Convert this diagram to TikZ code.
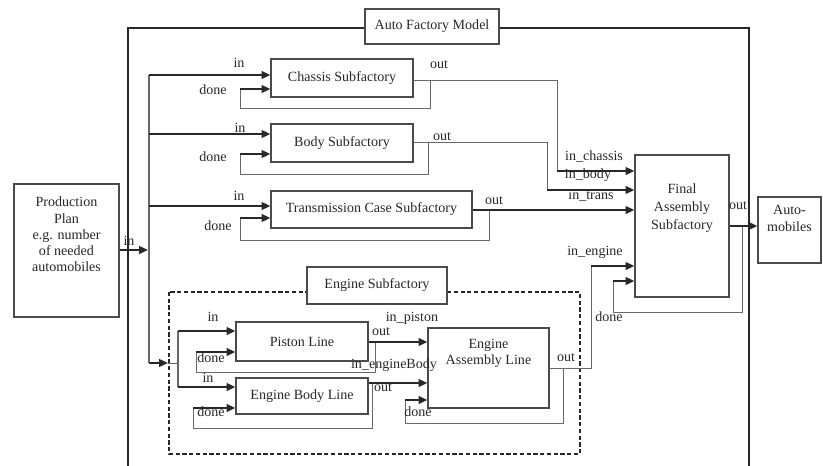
\documentclass[tikz,border=0pt]{standalone}
\usepackage{fontspec}
\setmainfont{Liberation Serif}
\usetikzlibrary{arrows.meta, positioning}
\definecolor{wiregray}{RGB}{105,105,105}
\definecolor{boxgray}{RGB}{75,75,75}
\definecolor{inkgray}{RGB}{40,40,40}

\begin{document}
\begin{tikzpicture}[
    x=0.25mm, y=-0.25mm,
    box/.style={rectangle, draw=boxgray, fill=white, line width=0.8pt, inner sep=0pt, align=center, text=inkgray, font=\fontsize{10}{12}\selectfont},
    tag/.style={inner sep=0pt, text=inkgray, font=\fontsize{10}{12}\selectfont},
    arrow/.style={-{Triangle[length=2.2mm, width=1.9mm]}, line width=1.4pt, inkgray},
    wire/.style={draw=wiregray, line width=0.7pt},
    frame/.style={draw=inkgray, line width=1.2pt},
    dashframe/.style={draw=inkgray, line width=1.6pt, dash pattern=on 3pt off 1.8pt}
]
\useasboundingbox (0,0) rectangle (823,466);

% Outer model frame, open at the bottom
\draw[frame] (128,466) |- (749,28) -- (749,466);
\node[box, minimum width=33.5mm, minimum height=8.75mm] (autotitle) at (432,26.5) {Auto Factory Model};

% Engine subfactory frame
\draw[dashframe] (169,292) rectangle (580,454);
\node[box, minimum width=35mm, minimum height=9.25mm] (enginetitle) at (377,285.5) {Engine Subfactory};

% Blocks
\node[box, minimum width=26.25mm, minimum height=33.25mm, text depth=23pt, font=\fontsize{10}{11.5}\selectfont] (plan) at (66.5,250.5) {Production\\Plan\\e.g. number\\of needed\\automobiles};
\node[box, minimum width=35.5mm, minimum height=9.5mm] (chassis) at (342,78) {Chassis Subfactory};
\node[box, minimum width=35.5mm, minimum height=9.5mm] (body) at (342,143) {Body Subfactory};
\node[box, minimum width=50.25mm, minimum height=9.25mm] (trans) at (371.5,209.5) {Transmission Case Subfactory};
\node[box, minimum width=23.5mm, minimum height=35.5mm, text depth=27.5pt, font=\fontsize{10}{12.8}\selectfont] (final) at (682,226) {Final\\Assembly\\Subfactory};
\node[box, minimum width=15.75mm, minimum height=16.5mm, text depth=16.5pt] (autos) at (789.5,230) {Auto-\\mobiles};
\node[box, minimum width=33mm, minimum height=9.75mm] (piston) at (302,341.5) {Piston Line};
\node[box, minimum width=33mm, minimum height=9mm] (engbody) at (302,396) {Engine Body Line};
\node[box, minimum width=30.25mm, minimum height=20mm, text depth=23pt] (engassy) at (488.5,368) {Engine\\Assembly Line};

% Input bus
\draw[arrow] (plan.east |- 0,250) -- (148,250);
\draw[wire, line width=0.9pt] (149,75) -- (149,363);
\draw[arrow] (149,75) -- (chassis.west |- 0,75);
\draw[arrow] (149,134) -- (body.west |- 0,134);
\draw[arrow] (149,206) -- (trans.west |- 0,206);
\draw[arrow] (149,363) -- (168,363);
\draw[wire] (168,363) -- (178,363);
\draw[wire, line width=0.9pt] (178,331) -- (178,387);
\draw[arrow] (178,331) -- (piston.west |- 0,331);
\draw[arrow] (178,387) -- (engbody.west |- 0,387);

% Done loops
\draw[wire] (chassis.east |- 0,80) -- (430,80) |- (240,108) -- (240,89);
\draw[arrow] (240,89) -- (chassis.west |- 0,89);
\draw[wire] (body.east |- 0,142) -- (428,142) |- (240,174) -- (240,154);
\draw[arrow] (240,154) -- (body.west |- 0,154);
\draw[wire] (trans.east |- 0,210) -- (489,210) |- (240,240) -- (240,218);
\draw[arrow] (240,218) -- (trans.west |- 0,218);
\draw[wire] (375,342) |- (196,372) -- (196,352);
\draw[arrow] (196,352) -- (piston.west |- 0,352);
\draw[wire] (372,383) |- (193,428) -- (193,408);
\draw[arrow] (193,408) -- (engbody.west |- 0,408);
\draw[wire] (engassy.east |- 0,368) -- (563,368) |- (405,423) -- (405,400);
\draw[arrow] (405,400) -- (engassy.west |- 0,400);
\draw[wire] (742,226) |- (613,312) -- (613,281);
\draw[arrow] (613,281) -- (final.west |- 0,281);

% Outputs to the assembly blocks
\draw[wire] (chassis.east |- 0,80) -- (557,80) -- (557,171);
\draw[arrow] (557,171) -- (final.west |- 0,171);
\draw[wire] (body.east |- 0,142) -- (547,142) -- (547,190);
\draw[arrow] (547,190) -- (final.west |- 0,190);
\draw[arrow] (trans.east |- 0,210) -- (final.west |- 0,210);
\draw[arrow] (piston.east |- 0,342) -- (engassy.west |- 0,342);
\draw[arrow] (engbody.east |- 0,383) -- (engassy.west |- 0,383);
\draw[wire] (563,368) -- (591,368) -- (591,266);
\draw[arrow] (591,266) -- (final.west |- 0,266);
\draw[arrow] (final.east |- 0,226) -- (autos.west |- 0,226);

% Port labels
\node[tag] (planin) at (129,241) {in};
\node[tag] (chassisin) at (239,63) {in};
\node[tag] (chassisdone) at (213,90) {done};
\node[tag] (chassisout) at (439,65) {out};
\node[tag] (bodyin) at (240,128) {in};
\node[tag] (bodydone) at (213,157) {done};
\node[tag] (bodyout) at (442,137) {out};
\node[tag] (transin) at (239,196) {in};
\node[tag] (transdone) at (218,226) {done};
\node[tag] (transout) at (494,201) {out};
\node[tag] (finchassis) at (594,157) {in\_chassis};
\node[tag] (finbody) at (588,175) {in\_body};
\node[tag] (fintrans) at (591,196) {in\_trans};
\node[tag] (finengine) at (595,252) {in\_engine};
\node[tag] (findone) at (609,317) {done};
\node[tag] (finout) at (738,206) {out};
\node[tag] (pistonin) at (213,317) {in};
\node[tag] (pistondone) at (211,358) {done};
\node[tag] (pistonout) at (381,332) {out};
\node[tag] (engbodyin) at (208,378) {in};
\node[tag] (engbodydone) at (211,412) {done};
\node[tag] (engbodyout) at (383,388) {out};
\node[tag] (assypiston) at (412,318) {in\_piston};
\node[tag] (assybody) at (394,365) {in\_engineBody};
\node[tag] (assydone) at (418,412) {done};
\node[tag] (assyout) at (566,358) {out};
\end{tikzpicture}
\end{document}
